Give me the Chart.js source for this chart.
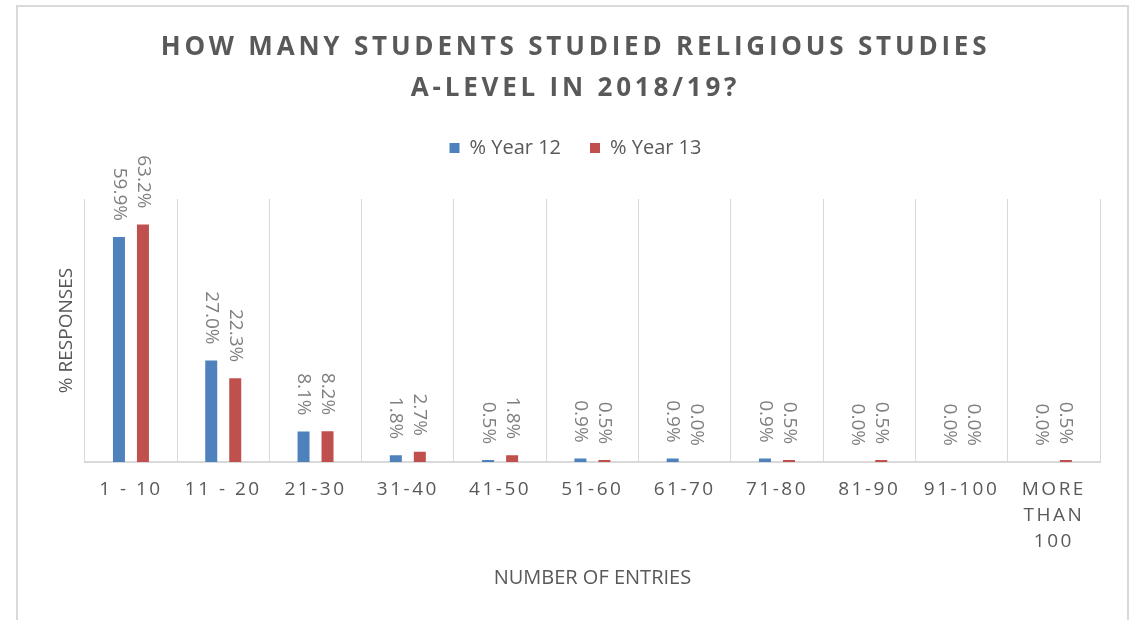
<!DOCTYPE html>
<html>
<head>
<meta charset="utf-8">
<title>Religious Studies A-level entries 2018/19</title>
<script src="https://cdn.jsdelivr.net/npm/chart.js@4.4.1/dist/chart.umd.min.js"></script>
<style>
  html, body { margin: 0; padding: 0; background: #fff; }
  .frame {
    position: absolute;
    left: 16px;
    top: 5px;
    border: 2px solid #d9d9d9;
    border-bottom: none;
  }
  canvas { display: block; }
</style>
</head>
<body>
<div class="frame">
  <canvas id="entriesChart" width="1109" height="613"></canvas>
</div>
<script>
const categories = ['1 - 10', '11 - 20', '21-30', '31-40', '41-50', '51-60', '61-70', '71-80', '81-90', '91-100', ['MORE', 'THAN', '100']];
const year12 = [59.9, 27.0, 8.1, 1.8, 0.5, 0.9, 0.9, 0.9, 0.0, 0.0, 0.0];
const year13 = [63.2, 22.3, 8.2, 2.7, 1.8, 0.5, 0.0, 0.5, 0.5, 0.0, 0.5];
const seriesNames = ['% Year 12', '% Year 13'];
const titleLines = ['HOW MANY STUDENTS STUDIED RELIGIOUS STUDIES', 'A-LEVEL IN 2018/19?'];

const FONT = "'Open Sans', 'DejaVu Sans', sans-serif";
const GREY = '#595959';

// letter-spaced drawing for the title and the category labels
function withSpacing(obj, fn, spacing) {
  if (!obj || obj['_spaced_' + fn]) return;
  const orig = obj[fn];
  obj[fn] = function (...args) {
    const ctx = this.ctx;
    ctx.save();
    ctx.letterSpacing = spacing;
    orig.apply(this, args);
    ctx.restore();
  };
  obj['_spaced_' + fn] = true;
}

const spacedText = {
  id: 'spacedText',
  beforeDraw(chart) {
    withSpacing(chart.titleBlock, 'draw', '3.8px');
    withSpacing(chart.scales.x, 'drawLabels', '2.5px');
  }
};

// extra room between the legend and the plot
const legendGap = {
  id: 'legendGap',
  beforeInit(chart) {
    const fit = chart.legend.fit;
    chart.legend.fit = function () {
      fit.call(this);
      this.height += 31;
    };
  }
};

// value labels, turned to read downwards above each bar
const barLabels = {
  id: 'barLabels',
  afterDatasetsDraw(chart) {
    const ctx = chart.ctx;
    ctx.save();
    ctx.font = `19px ${FONT}`;
    ctx.fillStyle = '#7f7f7f';
    ctx.textAlign = 'right';
    ctx.textBaseline = 'middle';
    chart.data.datasets.forEach((ds, i) => {
      chart.getDatasetMeta(i).data.forEach((bar, j) => {
        ctx.save();
        ctx.translate(bar.x, bar.y - 16);
        ctx.rotate(Math.PI / 2);
        ctx.fillText(ds.data[j].toFixed(1) + '%', 0, 0);
        ctx.restore();
      });
    });
    ctx.restore();
  }
};

new Chart(document.querySelector('#entriesChart'), {
  type: 'bar',
  data: {
    labels: categories,
    datasets: [
      { label: seriesNames[0], data: year12, backgroundColor: '#4f81bd' },
      { label: seriesNames[1], data: year13, backgroundColor: '#c0504d' }
    ]
  },
  options: {
    responsive: false,
    animation: false,
    categoryPercentage: 0.52,
    barPercentage: 0.5,
    layout: { padding: { left: 33, right: 27, top: 0, bottom: 34 } },
    plugins: {
      title: {
        display: true,
        text: titleLines,
        color: GREY,
        font: { family: FONT, size: 26, weight: 'bold', lineHeight: 41 / 26 },
        padding: { top: 20, bottom: 0 }
      },
      legend: {
        labels: {
          color: GREY,
          font: { family: FONT, size: 20 },
          boxWidth: 10,
          boxHeight: 10,
          padding: 29
        }
      },
      tooltip: { enabled: false }
    },
    scales: {
      x: {
        grid: { color: '#d9d9d9', lineWidth: 1, drawTicks: false },
        border: { color: '#d9d9d9', width: 2 },
        ticks: {
          color: GREY,
          font: { family: FONT, size: 19, lineHeight: 26 / 19 },
          padding: 15,
          maxRotation: 0,
          autoSkip: false
        },
        title: {
          display: true,
          text: 'NUMBER OF ENTRIES',
          color: GREY,
          font: { family: FONT, size: 20, lineHeight: 0.8 },
          padding: { top: 0, bottom: 0 }
        }
      },
      y: {
        min: 0,
        max: 70,
        grid: { display: false, drawTicks: false },
        border: { display: false },
        ticks: { display: false },
        title: {
          display: true,
          text: '% RESPONSES',
          color: GREY,
          font: { family: FONT, size: 19 },
          padding: { top: 4, bottom: 7 }
        }
      }
    }
  },
  plugins: [spacedText, legendGap, barLabels]
});
</script>
</body>
</html>
